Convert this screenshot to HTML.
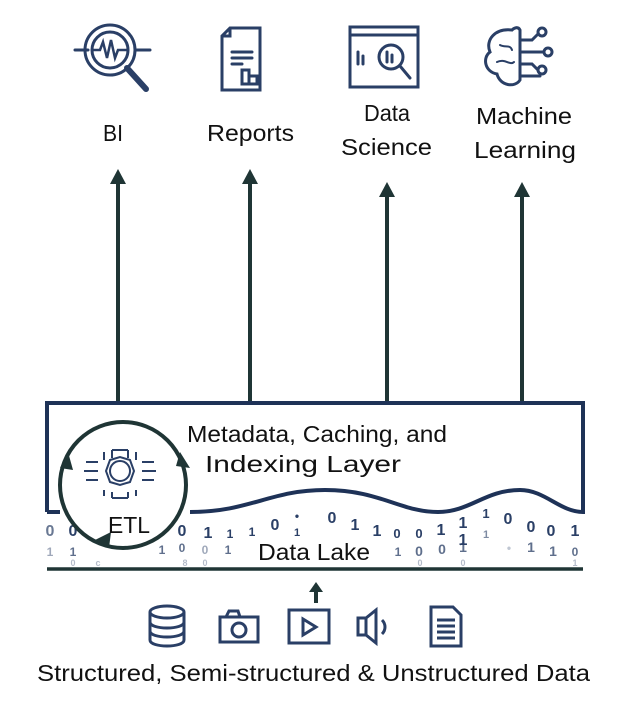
<!DOCTYPE html>
<html><head><meta charset="utf-8"><style>
html,body{margin:0;padding:0;background:#fff;}
svg{display:block;}
text{font-family:"Liberation Sans",sans-serif;}
</style></head><body>
<svg width="634" height="706" viewBox="0 0 634 706" xmlns="http://www.w3.org/2000/svg">
<!-- top icons -->
<g fill="none" stroke="#2a3f66" stroke-width="3" stroke-linecap="round">
 <circle cx="110" cy="50" r="25"/><circle cx="110" cy="50" r="18"/>
 <line x1="75" y1="50" x2="88" y2="50"/><line x1="135" y1="50" x2="150" y2="50"/>
 <polyline points="92,50 100,50 103,42 107,58 111,40 115,58 118,50 128,50" stroke-width="2.5"/>
 <line x1="127" y1="68" x2="146" y2="89" stroke-width="6"/>
 <path d="M230,28 L260,28 L260,90 L222,90 L222,36 Z M222,36 L230,36 L230,28"/>
 <line x1="232" y1="52" x2="252" y2="52"/><line x1="232" y1="58" x2="252" y2="58"/><line x1="232" y1="64" x2="242" y2="64"/>
 <rect x="242" y="70" width="7" height="14"/><rect x="249" y="76" width="8" height="8"/>
 <rect x="350" y="27" width="68" height="60"/><line x1="350" y1="35" x2="418" y2="35"/>
 <line x1="358" y1="52" x2="358" y2="64"/><line x1="363" y1="56" x2="363" y2="64"/>
 <circle cx="391" cy="57" r="12"/><line x1="400" y1="66" x2="410" y2="78"/>
 <line x1="387" y1="52" x2="387" y2="62"/><line x1="392" y1="55" x2="392" y2="62"/>
 <path d="M512,30 C495,28 485,40 490,52 C482,58 485,72 497,74 C500,86 515,88 520,80 L520,30 C518,26 514,28 512,30 Z"/>
 <path d="M520,40 L532,40 L538,34 M520,52 L544,52 M520,64 L532,64 L538,70 M520,76 L540,76"/>
 <circle cx="542" cy="32" r="4"/><circle cx="548" cy="52" r="4"/><circle cx="542" cy="70" r="4"/>
 <path d="M500,45 C505,48 510,44 512,50 M497,62 C505,58 510,66 514,62" stroke-width="2"/>
</g>
<!-- labels -->
<g font-size="23" fill="#111" lengthAdjust="spacingAndGlyphs">
 <text x="103" y="141" textLength="20" lengthAdjust="spacingAndGlyphs">BI</text>
 <text x="207" y="141" textLength="87" lengthAdjust="spacingAndGlyphs">Reports</text>
 <text x="364" y="121" textLength="46" lengthAdjust="spacingAndGlyphs">Data</text>
 <text x="341" y="155" textLength="91" lengthAdjust="spacingAndGlyphs">Science</text>
 <text x="476" y="124" textLength="96" lengthAdjust="spacingAndGlyphs">Machine</text>
 <text x="474" y="158" textLength="102" lengthAdjust="spacingAndGlyphs">Learning</text>
</g>
<!-- arrows -->
<g stroke="#1f3535" stroke-width="4">
 <line x1="118" y1="403" x2="118" y2="180"/>
 <line x1="250" y1="403" x2="250" y2="180"/>
 <line x1="387" y1="403" x2="387" y2="193"/>
 <line x1="522" y1="403" x2="522" y2="193"/>
</g>
<g fill="#1f3535">
 <path d="M110,184 L118,169 L126,184 Z"/><path d="M242,184 L250,169 L258,184 Z"/>
 <path d="M379,197 L387,182 L395,197 Z"/><path d="M514,197 L522,182 L530,197 Z"/>
</g>
<!-- binary digits -->
<g font-family="Liberation Sans" font-weight="bold" fill="#2a3f66" text-anchor="middle">
 <g font-size="16">
  <text x="50" y="536" opacity=".7">0</text><text x="73" y="536">0</text>
  <text x="182" y="536">0</text><text x="208" y="538">1</text><text x="230" y="538" font-size="12">1</text><text x="252" y="536" font-size="12">1</text>
  <text x="275" y="530">0</text><text x="297" y="520" font-size="12">•</text><text x="297" y="536" font-size="11">1</text>
  <text x="332" y="523">0</text><text x="355" y="530">1</text><text x="377" y="536">1</text><text x="397" y="538" font-size="13">0</text>
  <text x="419" y="538" font-size="13">0</text><text x="441" y="535">1</text><text x="463" y="528">1</text><text x="486" y="518" font-size="13">1</text>
  <text x="508" y="524">0</text><text x="531" y="532">0</text><text x="551" y="536">0</text><text x="575" y="536">1</text>
  <text x="486" y="538" font-size="11" opacity=".6">1</text><text x="463" y="545">1</text>
 </g>
 <g font-size="12" opacity=".75">
  <text x="50" y="556" opacity=".6">1</text><text x="73" y="556">1</text><text x="162" y="554">1</text>
  <text x="182" y="552">0</text><text x="205" y="554" opacity=".6">0</text><text x="228" y="554">1</text>
  <text x="398" y="556">1</text><text x="419" y="556" font-size="14">0</text><text x="442" y="554" font-size="14">0</text>
  <text x="463" y="552" font-size="14">1</text><text x="509" y="552" opacity=".4">•</text><text x="531" y="552" font-size="14">1</text>
  <text x="553" y="556" font-size="14">1</text><text x="575" y="556">0</text>
 </g>
 <g font-size="9" opacity=".35">
  <text x="73" y="566">0</text><text x="98" y="566">c</text><text x="185" y="566">8</text><text x="205" y="566">0</text><text x="463" y="566">0</text><text x="575" y="566">1</text><text x="420" y="566">0</text>
 </g>
</g>
<!-- layer box with wave -->
<path d="M47,512 L47,403 L583,403 L583,512 C560,512 545,490 520,490 C485,490 470,512 438,512 C400,512 380,490 325,490 C270,490 250,512 190,512"
 fill="#fff" stroke="#1e3257" stroke-width="4"/>
<path d="M47,512 L60,512" stroke="#1e3257" stroke-width="4"/>
<!-- ETL circle -->
<circle cx="123" cy="485" r="63" fill="none" stroke="#1f3535" stroke-width="4"/>
<g fill="#1f3535">
 <path d="M60,468 L68,452 L73,470 Z"/>
 <path d="M180,452 L190,468 L176,466 Z"/>
 <path d="M95,540 L111,532 L109,548 Z"/>
</g>
<!-- ETL chip icon -->
<g fill="none" stroke="#2a3f66" stroke-width="2">
 <circle cx="120" cy="471" r="10"/>
 <path d="M106,471 L110,460 L120,457 L130,460 L134,471 L130,482 L120,485 L110,482 Z"/>
 <path d="M104,452 L104,460 M112,450 L112,458 M128,450 L128,458 M136,452 L136,460 M112,450 L128,450"/>
 <path d="M98,462 L86,462 M98,471 L84,471 M98,480 L86,480 M142,462 L154,462 M142,471 L156,471 M142,480 L154,480"/>
 <path d="M104,490 L104,496 M112,492 L112,498 M128,492 L128,498 M136,490 L136,496 M112,498 L128,498"/>
</g>
<g font-size="23" fill="#111">
 <text x="108" y="533" textLength="42" lengthAdjust="spacingAndGlyphs">ETL</text>
 <text x="187" y="442" textLength="260" lengthAdjust="spacingAndGlyphs">Metadata, Caching, and</text>
 <text x="205" y="472" textLength="196" lengthAdjust="spacingAndGlyphs">Indexing Layer</text>
 <text x="258" y="560" textLength="112" lengthAdjust="spacingAndGlyphs">Data Lake</text>
</g>
<line x1="47" y1="569" x2="583" y2="569" stroke="#1f3535" stroke-width="3.5"/>
<line x1="316" y1="603" x2="316" y2="590" stroke="#1f3535" stroke-width="4"/>
<path d="M309,592 L316,582 L323,592 Z" fill="#1f3535"/>
<!-- bottom icons -->
<g fill="none" stroke="#2a3f66" stroke-width="3">
 <ellipse cx="167" cy="612" rx="17" ry="6"/>
 <path d="M150,612 L150,640 C150,648 184,648 184,640 L184,612 M150,622 C150,630 184,630 184,622 M150,631 C150,639 184,639 184,631"/>
 <rect x="220" y="617" width="38" height="25"/><path d="M226,617 L229,611 L238,611 L240,617"/><circle cx="239" cy="630" r="7"/>
 <rect x="289" y="610" width="40" height="33"/><path d="M303,619 L316,627 L303,635 Z"/>
 <path d="M358,618 L366,618 L376,610 L376,643 L366,635 L358,635 Z M366,618 L366,635 M382,620 C386,624 386,630 382,634"/>
 <path d="M431,607 L453,607 L461,615 L461,646 L431,646 Z M437,620 L455,620 M437,626 L455,626 M437,632 L455,632 M437,638 L455,638"/>
</g>
<text x="37" y="681" font-size="23" fill="#111" textLength="553" lengthAdjust="spacingAndGlyphs">Structured, Semi-structured &amp; Unstructured Data</text>
</svg>
</body></html>
